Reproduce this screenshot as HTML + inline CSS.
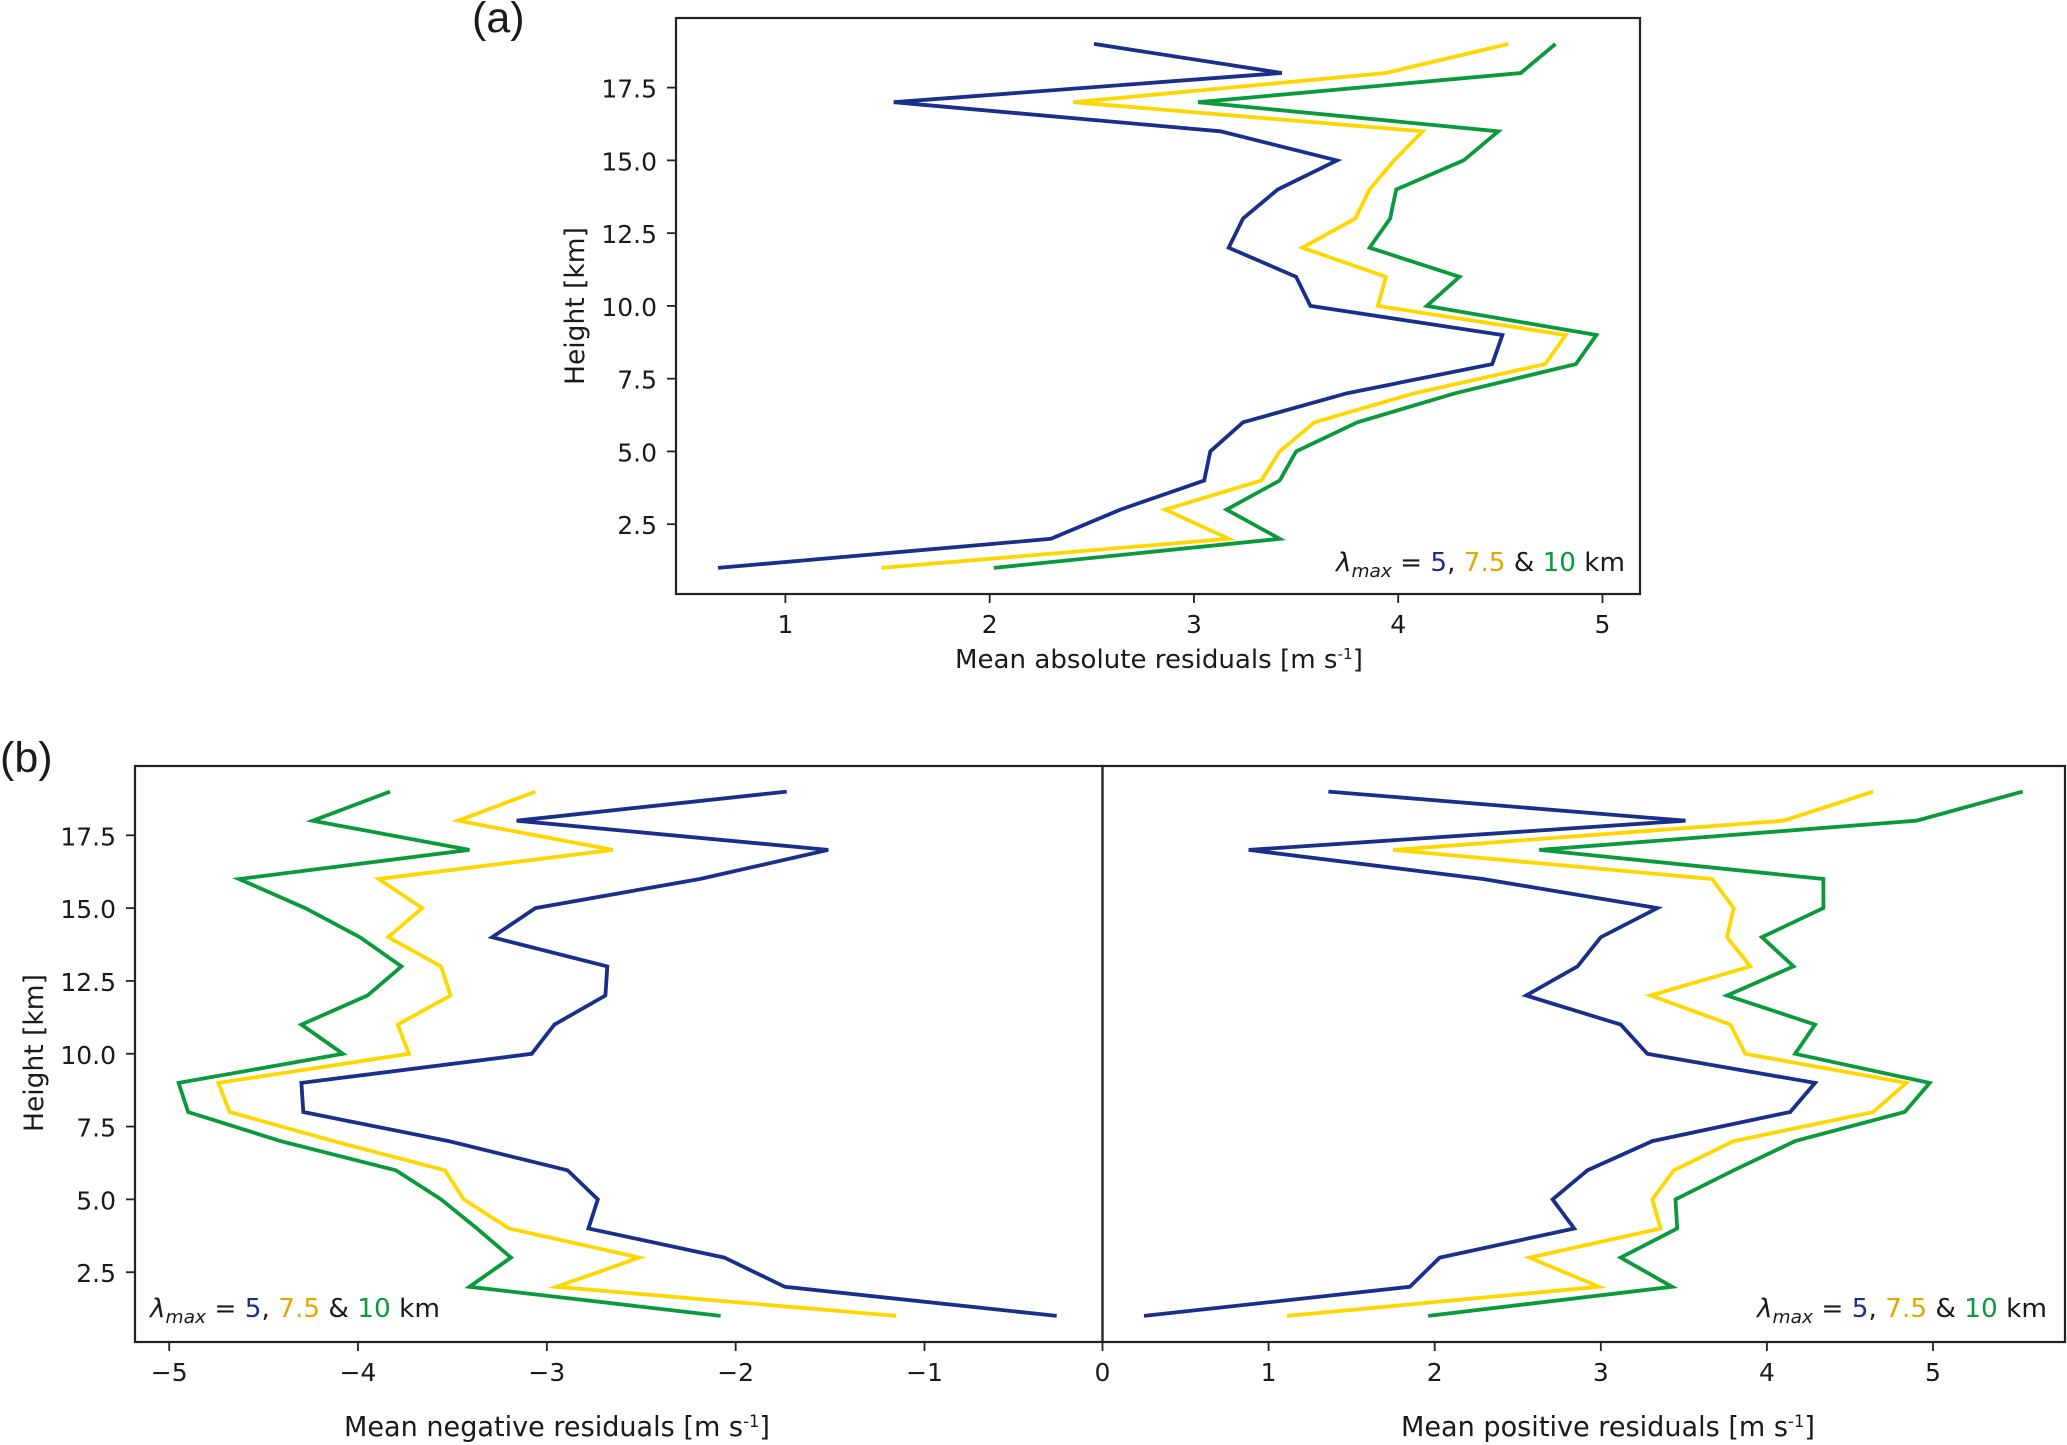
<!DOCTYPE html>
<html lang="en">
<head>
<meta charset="utf-8">
<title>Mean residuals by height</title>
<style>
html,body{margin:0;padding:0;background:#fff;width:2067px;height:1445px;overflow:hidden}
svg{display:block}
text{font-family:"DejaVu Sans","Liberation Sans",sans-serif;fill:#1a1a1a}
.panel-letter{font-family:"Liberation Sans",sans-serif;font-size:43px}
</style>
</head>
<body>
<svg id="fig" xmlns="http://www.w3.org/2000/svg" width="2067" height="1445" viewBox="0 0 2067 1445">
  <rect width="2067" height="1445" fill="#fff"/>
  <text class="panel-letter" x="472" y="32">(a)</text>
  <text class="panel-letter" x="0" y="772">(b)</text>
  <text x="1159" y="668" font-size="25.5" text-anchor="middle" textLength="408" lengthAdjust="spacingAndGlyphs">Mean absolute residuals [m s<tspan font-size="15" dy="-9">-1</tspan><tspan dy="9">]</tspan></text>
  <text x="557" y="1436" font-size="28" text-anchor="middle" textLength="426" lengthAdjust="spacingAndGlyphs">Mean negative residuals [m s<tspan font-size="17" dy="-9">-1</tspan><tspan dy="9">]</tspan></text>
  <text x="1608" y="1436" font-size="28" text-anchor="middle" textLength="414" lengthAdjust="spacingAndGlyphs">Mean positive residuals [m s<tspan font-size="17" dy="-9">-1</tspan><tspan dy="9">]</tspan></text>
  <text x="0" y="0" font-size="26.5" text-anchor="middle" transform="translate(584,306) rotate(-90)">Height [km]</text>
  <text x="0" y="0" font-size="26.5" text-anchor="middle" transform="translate(43,1053) rotate(-90)">Height [km]</text>
  <g>
    <text x="1336" y="571" font-size="25.5" textLength="289" lengthAdjust="spacingAndGlyphs"><tspan font-style="italic">λ</tspan><tspan font-style="italic" font-size="18" dy="6">max</tspan><tspan dy="-6"> = </tspan><tspan style="fill:#1a2f8a">5</tspan>, <tspan style="fill:#e3a800">7.5</tspan> &amp; <tspan style="fill:#0a9a3c">10</tspan> km</text>
  </g>
  <g>
    <text x="150" y="1317" font-size="25.5" textLength="290" lengthAdjust="spacingAndGlyphs"><tspan font-style="italic">λ</tspan><tspan font-style="italic" font-size="18" dy="6">max</tspan><tspan dy="-6"> = </tspan><tspan style="fill:#1a2f8a">5</tspan>, <tspan style="fill:#e3a800">7.5</tspan> &amp; <tspan style="fill:#0a9a3c">10</tspan> km</text>
  </g>
  <g>
    <text x="1757" y="1317" font-size="25.5" textLength="290" lengthAdjust="spacingAndGlyphs"><tspan font-style="italic">λ</tspan><tspan font-style="italic" font-size="18" dy="6">max</tspan><tspan dy="-6"> = </tspan><tspan style="fill:#1a2f8a">5</tspan>, <tspan style="fill:#e3a800">7.5</tspan> &amp; <tspan style="fill:#0a9a3c">10</tspan> km</text>
  </g>
</svg>
<script>
// Heights shared by every series, top to bottom (km)
const heights = [19,18,17,16,15,14,13,12,11,10,9,8,7,6,5,4,3,2,1];
const yTickValues = [2.5,5,7.5,10,12.5,15,17.5];
const yTickLabels = ['2.5','5.0','7.5','10.0','12.5','15.0','17.5'];

// Panel (a) mean absolute residuals
const absBlue   = [2.51,3.43,1.53,3.13,3.70,3.41,3.24,3.17,3.50,3.57,4.51,4.46,3.75,3.24,3.08,3.05,2.64,2.30,0.67];
const absYellow = [4.54,3.94,2.41,4.12,3.98,3.86,3.79,3.53,3.94,3.90,4.82,4.72,4.08,3.59,3.42,3.33,2.86,3.17,1.47];
const absGreen  = [4.77,4.60,3.02,4.49,4.32,3.99,3.96,3.86,4.30,4.14,4.97,4.87,4.28,3.80,3.50,3.42,3.16,3.42,2.02];
const absTicks  = [1,2,3,4,5];

// Panel (b) mean negative residuals
const negBlue   = [-1.73,-3.16,-1.51,-2.19,-3.06,-3.29,-2.68,-2.69,-2.96,-3.08,-4.30,-4.29,-3.52,-2.89,-2.73,-2.78,-2.06,-1.74,-0.30];
const negYellow = [-3.06,-3.47,-2.65,-3.89,-3.66,-3.84,-3.56,-3.51,-3.79,-3.73,-4.74,-4.68,-4.13,-3.54,-3.44,-3.20,-2.51,-2.95,-1.15];
const negGreen  = [-3.83,-4.24,-3.41,-4.63,-4.28,-3.99,-3.77,-3.95,-4.30,-4.08,-4.95,-4.90,-4.41,-3.80,-3.56,-3.37,-3.19,-3.41,-2.08];
const negTicks  = [-5,-4,-3,-2,-1];

// Panel (b) mean positive residuals
const posBlue   = [1.36,3.51,0.88,2.29,3.34,3.00,2.86,2.55,3.12,3.28,4.29,4.14,3.31,2.92,2.71,2.84,2.03,1.85,0.25];
const posYellow = [4.64,4.10,1.75,3.67,3.80,3.76,3.90,3.30,3.78,3.87,4.84,4.64,3.80,3.44,3.31,3.36,2.57,2.99,1.11];
const posGreen  = [5.54,4.90,2.63,4.34,4.34,3.97,4.16,3.76,4.29,4.17,4.98,4.83,4.17,3.80,3.45,3.46,3.12,3.43,1.96];
const posTicks  = [0,1,2,3,4,5];

const NS = 'http://www.w3.org/2000/svg';
const fig = document.getElementById('fig');
const colorBlue = '#1a2f8a', colorYellow = '#ffd700', colorGreen = '#0a9a3c', ink = '#222';

function make(tag, attrs, parent) {
  const el = document.createElementNS(NS, tag);
  for (const k in attrs) el.setAttribute(k, attrs[k]);
  parent.appendChild(el);
  return el;
}

function linear(v0, p0, v1, p1) {
  return v => p0 + (v - v0) * (p1 - p0) / (v1 - v0);
}

function drawPanel(name, box, xScale, yScale, series, xTicks, showY) {
  const g = make('g', {}, fig);
  
  

  series.forEach(s => {
    const pts = s.values.map((v, i) => xScale(v).toFixed(1) + ',' + yScale(heights[i]).toFixed(1)).join(' ');
    const line = make('polyline', {points: pts, fill: 'none', stroke: s.color, 'stroke-width': 3.8, 'stroke-linejoin': 'miter', 'stroke-miterlimit': 6, 'stroke-linecap': 'butt'}, g);
    
    
  });

  const frame = make('rect', {x: box.l, y: box.t, width: box.r - box.l, height: box.b - box.t, fill: 'none', stroke: ink, 'stroke-width': 2.2}, g);
  
  

  xTicks.forEach(v => {
    const x = xScale(v);
    const tick = make('line', {x1: x, x2: x, y1: box.b, y2: box.b + 9, stroke: ink, 'stroke-width': 1.8}, g);
    
    
    const label = make('text', {x: x, y: box.b + 39, 'font-size': 25, 'text-anchor': 'middle'}, g);
    
    
    label.textContent = v < 0 ? '\u2212' + Math.abs(v) : String(v);
  });

  if (showY) {
    yTickValues.forEach((v, i) => {
      const y = yScale(v);
      const tick = make('line', {x1: box.l - 9, x2: box.l, y1: y, y2: y, stroke: ink, 'stroke-width': 1.8}, g);
      
      
      const label = make('text', {x: box.l - 19, y: y + 10, 'font-size': 25, 'text-anchor': 'end'}, g);
      
      
      label.textContent = yTickLabels[i];
    });
  }
}

const yA = linear(2.5, 524.2, 17.5, 87.6);
const yB = linear(2.5, 1272.2, 17.5, 835.3);

drawPanel('panel-a',
  {l: 676, r: 1640, t: 18, b: 594},
  linear(1, 785.4, 5, 1602.5), yA,
  [{label: 'lambda-5', values: absBlue, color: colorBlue},
   {label: 'lambda-7-5', values: absYellow, color: colorYellow},
   {label: 'lambda-10', values: absGreen, color: colorGreen}],
  absTicks, true);

drawPanel('panel-b-negative',
  {l: 135, r: 1102.5, t: 766, b: 1342},
  linear(-5, 169.2, -1, 924.5), yB,
  [{label: 'lambda-5', values: negBlue, color: colorBlue},
   {label: 'lambda-7-5', values: negYellow, color: colorYellow},
   {label: 'lambda-10', values: negGreen, color: colorGreen}],
  negTicks, true);

drawPanel('panel-b-positive',
  {l: 1102.5, r: 2065, t: 766, b: 1342},
  linear(0, 1102.5, 5, 1933), yB,
  [{label: 'lambda-5', values: posBlue, color: colorBlue},
   {label: 'lambda-7-5', values: posYellow, color: colorYellow},
   {label: 'lambda-10', values: posGreen, color: colorGreen}],
  posTicks, false);
</script>
</body>
</html>
